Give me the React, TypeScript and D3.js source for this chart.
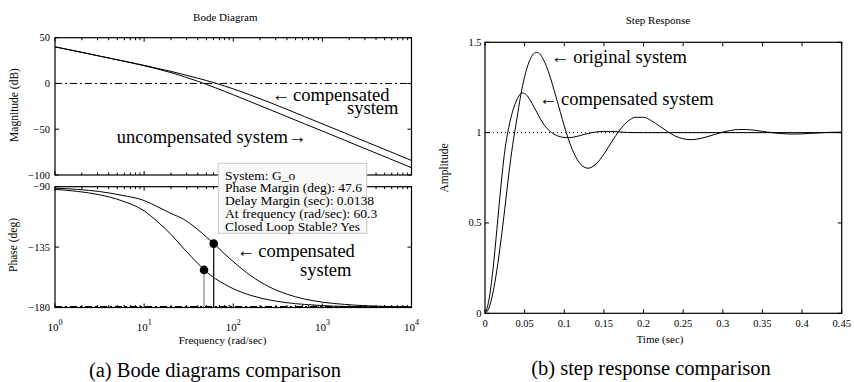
import React from 'react';
import * as d3 from 'd3';

// ---------- data: Bode diagram ----------
const freqs = [1, 1.78, 3.16, 5.62, 10, 14.1, 20, 28.2, 39.8, 50.1, 63.1, 79.4, 100, 158, 251, 398, 631, 1000, 1780, 3160, 5620, 10000];
const magUncomp = [40.0, 35.0, 29.9, 24.8, 19.4, 15.8, 11.9, 7.4, 2.5, -1.0, -4.7, -8.5, -12.3, -20.2, -28.1, -36.1, -44.1, -52.0, -62.0, -72.0, -82.0, -92.0];
const magComp = [40.0, 35.0, 29.9, 24.9, 19.8, 16.5, 13.2, 9.6, 5.8, 3.2, 0.4, -2.7, -5.9, -12.9, -20.4, -28.2, -36.2, -44.1, -54.1, -64.1, -74.1, -84.1];
const phaseUncomp = [-92, -93.5, -96, -100.5, -108, -116, -125.5, -136.5, -147, -153.5, -158.5, -162.5, -166, -171, -174.3, -176.4, -177.7, -178.6, -179.2, -179.5, -179.7, -179.9];
const phaseComp = [-91.1, -92, -93.6, -96.4, -100.3, -104.9, -109.9, -114.5, -121.8, -127.5, -133.5, -139.9, -145.8, -156.4, -164.5, -170, -173.7, -176, -177.7, -178.7, -179.3, -179.6];
const marginFreqs = [47.0, 60.3];
const marginPhases = [-152.0, -132.4];
const marginStemColors = ['#888888', '#000000'];
const magTicks = [50, 0, -50, -100];
const phaseTicks = [-90, -135, -180];
const decadeExps = [0, 1, 2, 3, 4];
const tooltipLines = [
  'System: G_o',
  'Phase Margin (deg): 47.6',
  'Delay Margin (sec): 0.0138',
  'At frequency (rad/sec): 60.3',
  'Closed Loop Stable? Yes',
];

// ---------- data: step response ----------
const timeOrig = [0, 0.005, 0.01, 0.015, 0.02, 0.025, 0.03, 0.035, 0.04, 0.045, 0.05, 0.055, 0.06, 0.065, 0.07, 0.075, 0.08, 0.09, 0.1, 0.11, 0.12, 0.13, 0.14, 0.15, 0.16, 0.17, 0.18, 0.19, 0.2, 0.21, 0.22, 0.23, 0.24, 0.25, 0.26, 0.27, 0.28, 0.29, 0.3, 0.31, 0.32, 0.33, 0.34, 0.35, 0.36, 0.37, 0.38, 0.39, 0.4, 0.41, 0.42, 0.43, 0.44, 0.45];
const stepOrig = [0, 0.03, 0.113, 0.24, 0.40, 0.58, 0.77, 0.935, 1.07, 1.205, 1.31, 1.385, 1.43, 1.444, 1.431, 1.393, 1.337, 1.192, 1.037, 0.908, 0.828, 0.803, 0.826, 0.881, 0.95, 1.015, 1.062, 1.085, 1.085, 1.066, 1.037, 1.007, 0.981, 0.966, 0.961, 0.966, 0.977, 0.99, 1.003, 1.012, 1.017, 1.017, 1.013, 1.007, 1.001, 0.996, 0.993, 0.992, 0.993, 0.996, 0.998, 1.001, 1.002, 1.003];
const timeComp = [0, 0.002, 0.005, 0.01, 0.015, 0.02, 0.025, 0.03, 0.035, 0.04, 0.047, 0.052, 0.057, 0.062, 0.067, 0.072, 0.077, 0.084, 0.09, 0.097, 0.105, 0.115, 0.125, 0.135, 0.15, 0.165, 0.18, 0.2, 0.25, 0.3, 0.35, 0.4, 0.45];
const stepComp = [0, 0.02, 0.075, 0.24, 0.465, 0.70, 0.90, 1.03, 1.12, 1.18, 1.22, 1.21, 1.18, 1.14, 1.10, 1.06, 1.03, 1.0, 0.985, 0.975, 0.972, 0.978, 0.99, 1.0, 1.007, 1.005, 1.001, 1.0, 1.0, 1.0, 1.0, 1.0, 1.0];
const timeTicks = [0, 0.05, 0.1, 0.15, 0.2, 0.25, 0.3, 0.35, 0.4, 0.45];
const ampTicks = [0, 0.5, 1, 1.5];

const FONT = "'Liberation Serif', 'Times New Roman', Times, serif";
const fmt = (v: number) => String(v).replace('-', '\u2212');

export default function App() {
  // Bode scales
  const bx = d3.scaleLog().domain([1, 1e4]).range([55, 411.5]);
  const my = d3.scaleLinear().domain([-100, 50]).range([175, 37.7]);
  const py = d3.scaleLinear().domain([-180, -90]).range([307.5, 186.7]);
  // Step scales
  const sx = d3.scaleLinear().domain([0, 0.45]).range([485, 841.7]);
  const sy = d3.scaleLinear().domain([0, 1.5]).range([313.3, 42.3]);

  const magLine = (vals: number[]) =>
    d3.line<number>().x((_, i) => bx(freqs[i])).y((d) => my(d)).curve(d3.curveMonotoneX)(vals) || '';
  const phaseLine = (vals: number[]) =>
    d3.line<number>().x((_, i) => bx(freqs[i])).y((d) => py(d)).curve(d3.curveMonotoneX)(vals) || '';
  const stepLine = (ts: number[], vals: number[]) =>
    d3.line<number>().x((_, i) => sx(ts[i])).y((d) => sy(d)).curve(d3.curveMonotoneX)(vals) || '';

  const minorFreqs: number[] = [];
  decadeExps.slice(0, -1).forEach((e) => {
    for (let k = 2; k <= 9; k++) minorFreqs.push(k * Math.pow(10, e));
  });

  const bodeFrame = (yScale: d3.ScaleLinear<number, number>, yTicks: number[]) => {
    const [y0, y1] = [yScale.range()[0], yScale.range()[1]];
    const [x0, x1] = bx.range();
    return (
      <g>
        {decadeExps.map((e) => {
          const x = bx(Math.pow(10, e));
          return (
            <g key={'M' + e}>
              <line x1={x} x2={x} y1={y0} y2={y0 - 4} stroke="#000" />
              <line x1={x} x2={x} y1={y1} y2={y1 + 4} stroke="#000" />
            </g>
          );
        })}
        {minorFreqs.map((f) => {
          const x = bx(f);
          return (
            <g key={'m' + f}>
              <line x1={x} x2={x} y1={y0} y2={y0 - 2.5} stroke="#000" />
              <line x1={x} x2={x} y1={y1} y2={y1 + 2.5} stroke="#000" />
            </g>
          );
        })}
        {yTicks.map((t) => (
          <g key={'y' + t}>
            <line x1={x0} x2={x0 + 4} y1={yScale(t)} y2={yScale(t)} stroke="#000" />
            <line x1={x1} x2={x1 - 4} y1={yScale(t)} y2={yScale(t)} stroke="#000" />
            <text x={50} y={yScale(t)} textAnchor="end" dominantBaseline="central" fontSize={10.5}>
              {fmt(t)}
            </text>
          </g>
        ))}
        <rect x={x0} y={y1} width={x1 - x0} height={y0 - y1} fill="none" stroke="#000" strokeWidth={1.2} />
      </g>
    );
  };

  return (
    <svg
      width={854}
      height={382}
      style={{ position: 'absolute', left: 0, top: 0, background: '#fff' }}
      fontFamily={FONT}
    >
      <rect x={0} y={0} width={854} height={382} fill="#fff" />

      {/* ================= Bode diagram ================= */}
      <text x={225.3} y={16.7} textAnchor="middle" dominantBaseline="central" fontSize={11}>
        Bode Diagram
      </text>

      {/* magnitude panel */}
      <line x1={bx(1)} x2={bx(1e4)} y1={my(0)} y2={my(0)} stroke="#000" strokeDasharray="7,3,2,3" />
      <path d={magLine(magUncomp)} fill="none" stroke="#000" strokeWidth={1} />
      <path d={magLine(magComp)} fill="none" stroke="#000" strokeWidth={1} />
      {bodeFrame(my, magTicks)}
      <text transform="translate(14,105) rotate(-90)" textAnchor="middle" dominantBaseline="central" fontSize={11.5}>
        Magnitude (dB)
      </text>
      <text x={271.7} y={95} dominantBaseline="central" fontSize={18.5}>←</text>
      <text x={293} y={95} dominantBaseline="central" fontSize={18.5}>compensated</text>
      <text x={347} y={108.3} dominantBaseline="central" fontSize={18.5}>system</text>
      <text x={116.7} y={136.7} dominantBaseline="central" fontSize={18.5}>uncompensated system</text>
      <text x={288} y={136.7} dominantBaseline="central" fontSize={18.5}>→</text>

      {/* phase panel */}
      <line x1={bx(1)} x2={bx(1e4)} y1={py(-180) - 0.8} y2={py(-180) - 0.8} stroke="#000" strokeWidth={1.6} strokeDasharray="7,3,2,3" />
      <path d={phaseLine(phaseUncomp)} fill="none" stroke="#000" strokeWidth={1} />
      <path d={phaseLine(phaseComp)} fill="none" stroke="#000" strokeWidth={1} />
      {marginFreqs.map((f, i) => (
        <g key={'pm' + i}>
          <line x1={bx(f)} x2={bx(f)} y1={py(marginPhases[i])} y2={py(-180)} stroke={marginStemColors[i]} strokeWidth={1.2} />
          <circle cx={bx(f)} cy={py(marginPhases[i])} r={4.3} fill="#000" />
        </g>
      ))}
      {bodeFrame(py, phaseTicks)}
      <text transform="translate(13,245) rotate(-90)" textAnchor="middle" dominantBaseline="central" fontSize={11.5}>
        Phase (deg)
      </text>
      <text x={236.7} y={251} dominantBaseline="central" fontSize={18.5}>←</text>
      <text x={258.3} y={251} dominantBaseline="central" fontSize={18.5}>compensated</text>
      <text x={300} y={270} dominantBaseline="central" fontSize={18.5}>system</text>

      {/* frequency axis labels */}
      {decadeExps.map((e) => (
        <text key={'xl' + e} x={bx(Math.pow(10, e))} y={330.5} textAnchor="middle" fontSize={11}>
          10<tspan dy={-6} fontSize={8}>{e}</tspan>
        </text>
      ))}
      <text x={222.5} y={340} textAnchor="middle" dominantBaseline="central" fontSize={11}>
        Frequency  (rad/sec)
      </text>
      <text x={215} y={370} textAnchor="middle" dominantBaseline="central" fontSize={20.5}>
        (a) Bode diagrams comparison
      </text>

      {/* margin tooltip */}
      <rect x={218.3} y={163.3} width={148.4} height={70} fill="#f9f9f9" stroke="#c8c8c8" strokeWidth={1} />
      {tooltipLines.map((s, i) => (
        <text key={'tt' + i} x={225} y={175 + i * 12.9} dominantBaseline="central" fontSize={13.5}>
          {s}
        </text>
      ))}

      {/* ================= Step response ================= */}
      <text x={658} y={20} textAnchor="middle" dominantBaseline="central" fontSize={11}>
        Step Response
      </text>
      <line x1={sx(0)} x2={sx(0.45)} y1={sy(1)} y2={sy(1)} stroke="#000" strokeDasharray="1,3" />
      <path d={stepLine(timeOrig, stepOrig)} fill="none" stroke="#000" strokeWidth={1} />
      <path d={stepLine(timeComp, stepComp)} fill="none" stroke="#000" strokeWidth={1} />
      {timeTicks.map((t) => (
        <g key={'tt' + t}>
          <line x1={sx(t)} x2={sx(t)} y1={sy(0)} y2={sy(0) - 4} stroke="#000" />
          <line x1={sx(t)} x2={sx(t)} y1={sy(1.5)} y2={sy(1.5) + 4} stroke="#000" />
          <text x={sx(t)} y={323.5} textAnchor="middle" dominantBaseline="central" fontSize={10.5}>
            {fmt(t)}
          </text>
        </g>
      ))}
      {ampTicks.map((a) => (
        <g key={'at' + a}>
          <line x1={sx(0)} x2={sx(0) + 4} y1={sy(a)} y2={sy(a)} stroke="#000" />
          <line x1={sx(0.45)} x2={sx(0.45) - 4} y1={sy(a)} y2={sy(a)} stroke="#000" />
          <text x={481.5} y={sy(a)} textAnchor="end" dominantBaseline="central" fontSize={10.5}>
            {fmt(a)}
          </text>
        </g>
      ))}
      <rect x={sx(0)} y={sy(1.5)} width={sx(0.45) - sx(0)} height={sy(0) - sy(1.5)} fill="none" stroke="#000" strokeWidth={1.2} />
      <text transform="translate(444,168) rotate(-90)" textAnchor="middle" dominantBaseline="central" fontSize={11.5}>
        Amplitude
      </text>
      <text x={660} y={339.3} textAnchor="middle" dominantBaseline="central" fontSize={11}>
        Time (sec)
      </text>
      <text x={550.7} y={56.7} dominantBaseline="central" fontSize={18.5}>←</text>
      <text x={573.3} y={56.7} dominantBaseline="central" fontSize={18.5}>original system</text>
      <text x={539} y={99} dominantBaseline="central" fontSize={18.5}>←</text>
      <text x={561} y={99} dominantBaseline="central" fontSize={18.5}>compensated system</text>
      <text x={651} y={368.3} textAnchor="middle" dominantBaseline="central" fontSize={20.5}>
        (b) step response comparison
      </text>
    </svg>
  );
}
